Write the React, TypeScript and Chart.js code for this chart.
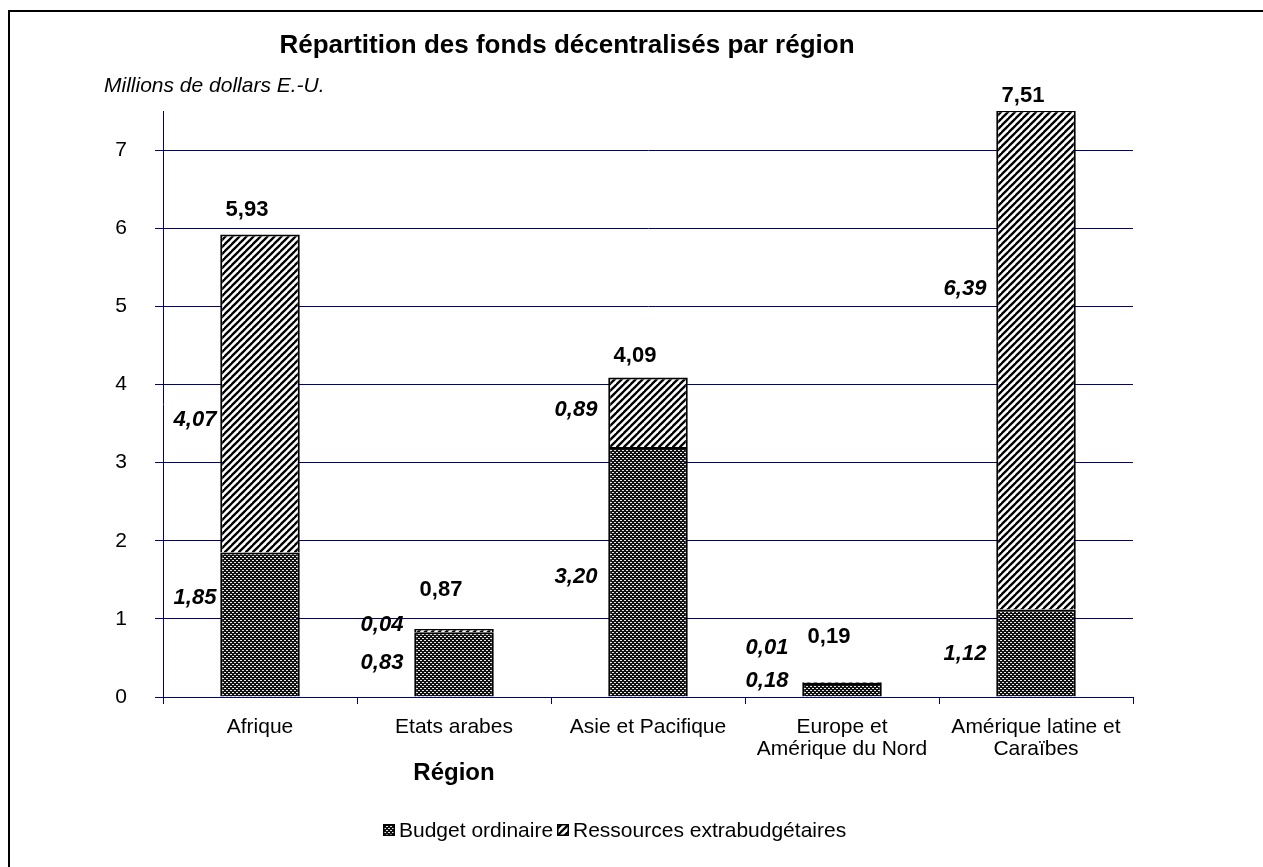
import React, { useEffect, useRef } from "react";
import { Chart, registerables } from "chart.js";

Chart.register(...registerables);

const categories: (string | string[])[] = [
  "Afrique",
  "Etats arabes",
  "Asie et Pacifique",
  ["Europe et", "Amérique du Nord"],
  ["Amérique latine et", "Caraïbes"],
];
const budgetOrdinaire = [1.85, 0.83, 3.2, 0.18, 1.12];
const ressourcesExtra = [4.07, 0.04, 0.89, 0.01, 6.39];
const totals = [5.93, 0.87, 4.09, 0.19, 7.51];
const budgetLabels = ["1,85", "0,83", "3,20", "0,18", "1,12"];
const extraLabels = ["4,07", "0,04", "0,89", "0,01", "6,39"];
const totalLabels = ["5,93", "0,87", "4,09", "0,19", "7,51"];
const yTicks = [0, 1, 2, 3, 4, 5, 6, 7];

// label anchor heights (in axis units)
const budgetLabelAt = [1.27, 0.44, 1.54, 0.21, 0.55];
const extraLabelAt = [3.55, 0.92, 3.68, 0.63, 5.22];
const totalLabelAt = [6.24, 1.37, 4.36, 0.77, 7.69];

const SEG_DX = [-65, -72, -72, -75, -71];
const TOT_DX = -13;
const NAVY = "#000080";
const FONT = "'Liberation Sans', Arial, sans-serif";

function makeDotPattern(): CanvasPattern | string {
  const c = document.createElement("canvas");
  c.width = 4;
  c.height = 4;
  const g = c.getContext("2d");
  if (!g) return "#333";
  g.fillStyle = "#111";
  g.fillRect(0, 0, 4, 4);
  g.fillStyle = "#e8e8e8";
  g.fillRect(0, 0, 2, 1);
  g.fillRect(2, 2, 2, 1);
  const p = g.createPattern(c, "repeat");
  return p || "#333";
}

function makeStripePattern(): CanvasPattern | string {
  const s = 7;
  const c = document.createElement("canvas");
  c.width = s;
  c.height = s;
  const g = c.getContext("2d");
  if (!g) return "#888";
  g.fillStyle = "#fff";
  g.fillRect(0, 0, s, s);
  g.strokeStyle = "#000";
  g.lineWidth = 2.3;
  for (const k of [0, s, 2 * s]) {
    g.beginPath();
    g.moveTo(k + 1, -1);
    g.lineTo(-1, k + 1);
    g.stroke();
  }
  const p = g.createPattern(c, "repeat");
  return p || "#888";
}

export default function App() {
  const ref = useRef<HTMLCanvasElement | null>(null);

  useEffect(() => {
    const canvas = ref.current;
    if (!canvas) return;
    const dot = makeDotPattern();
    const stripe = makeStripePattern();

    const textPlugin = {
      id: "texts",
      afterDatasetsDraw(chart: any) {
        const ctx = chart.ctx as CanvasRenderingContext2D;
        const xs = chart.scales.x;
        const ys = chart.scales.y;
        ctx.save();
        ctx.fillStyle = "#000";
        ctx.textBaseline = "middle";
        ctx.textAlign = "center";
        ctx.font = `italic bold 22px ${FONT}`;
        for (let i = 0; i < categories.length; i++) {
          const cx = xs.getPixelForValue(i);
          ctx.fillText(budgetLabels[i], cx + SEG_DX[i], ys.getPixelForValue(budgetLabelAt[i]));
          ctx.fillText(extraLabels[i], cx + SEG_DX[i], ys.getPixelForValue(extraLabelAt[i]));
        }
        ctx.font = `bold 22px ${FONT}`;
        for (let i = 0; i < categories.length; i++) {
          const cx = xs.getPixelForValue(i);
          ctx.fillText(totalLabels[i], cx + TOT_DX, ys.getPixelForValue(totalLabelAt[i]));
        }
        ctx.restore();
      },
      afterDraw(chart: any) {
        const ctx = chart.ctx as CanvasRenderingContext2D;
        ctx.save();
        ctx.fillStyle = "#000";
        ctx.textBaseline = "middle";
        ctx.textAlign = "center";
        ctx.font = `bold 26px ${FONT}`;
        ctx.fillText("Répartition des fonds décentralisés par région", 567, 46);
        ctx.textAlign = "left";
        ctx.font = `italic 21px ${FONT}`;
        ctx.fillText("Millions de dollars E.-U.", 104, 86);
        ctx.textAlign = "center";
        ctx.font = `bold 24px ${FONT}`;
        ctx.fillText("Région", 454, 773);
        // legend
        ctx.font = `21px ${FONT}`;
        ctx.textAlign = "left";
        const items: [CanvasPattern | string, string, number][] = [
          [dot, "Budget ordinaire", 383],
          [stripe, "Ressources extrabudgétaires", 557],
        ];
        for (const [fill, label, x] of items) {
          ctx.fillStyle = fill as any;
          ctx.fillRect(x, 824, 12, 12);
          ctx.strokeStyle = "#000";
          ctx.lineWidth = 1.5;
          ctx.strokeRect(x + 0.75, 824.75, 10.5, 10.5);
          ctx.fillStyle = "#000";
          ctx.fillText(label, x + 16, 831);
        }
        ctx.restore();
      },
    };

    const chart = new Chart(canvas, {
      type: "bar",
      data: {
        labels: categories,
        datasets: [
          {
            label: "Budget ordinaire",
            data: budgetOrdinaire,
            backgroundColor: dot as any,
            borderColor: "#000",
            borderWidth: 2,
            categoryPercentage: 1,
            barPercentage: 0.41,
          },
          {
            label: "Ressources extrabudgétaires",
            data: ressourcesExtra,
            backgroundColor: stripe as any,
            borderColor: "#000",
            borderWidth: 2,
            categoryPercentage: 1,
            barPercentage: 0.41,
          },
        ],
      },
      options: {
        responsive: false,
        animation: false,
        devicePixelRatio: 1,
        layout: { padding: { left: 103, right: 130, top: 111, bottom: 70 } },
        plugins: {
          legend: { display: false },
          title: { display: false },
          tooltip: { enabled: false },
        },
        scales: {
          x: {
            stacked: true,
            grid: {
              offset: true,
              drawOnChartArea: false,
              color: NAVY,
              tickLength: 7,
              lineWidth: 1,
            },
            border: { color: NAVY, width: 1 },
            ticks: {
              color: "#000",
              font: { family: FONT, size: 21, lineHeight: 1.05 },
              padding: 12,
              maxRotation: 0,
              autoSkip: false,
            },
            afterFit: (s: any) => {
              s.height = 100;
            },
          },
          y: {
            stacked: true,
            min: 0,
            max: 7.5,
            grid: { color: NAVY, tickLength: 8, lineWidth: 1 },
            border: { color: NAVY, width: 1 },
            ticks: {
              stepSize: 1,
              color: "#000",
              font: { family: FONT, size: 21 },
              padding: 28,
            },
            afterBuildTicks: (s: any) => {
              s.ticks = yTicks.map((v) => ({ value: v }));
            },
            afterFit: (s: any) => {
              s.width = 60;
            },
          },
        },
      },
      plugins: [textPlugin],
    });
    return () => chart.destroy();
  }, []);

  return (
    <div
      style={{
        position: "fixed",
        left: 0,
        top: 0,
        width: 1263,
        height: 867,
        overflow: "hidden",
        background: "#fff",
      }}
    >
      <div
        style={{
          position: "absolute",
          left: 8,
          top: 10,
          width: 1255,
          height: 857,
          borderTop: "2px solid #000",
          borderLeft: "2px solid #000",
          boxSizing: "border-box",
        }}
      />
      <canvas
        ref={ref}
        width={1263}
        height={867}
        style={{ position: "absolute", left: 0, top: 0, width: 1263, height: 867 }}
      />
    </div>
  );
}
